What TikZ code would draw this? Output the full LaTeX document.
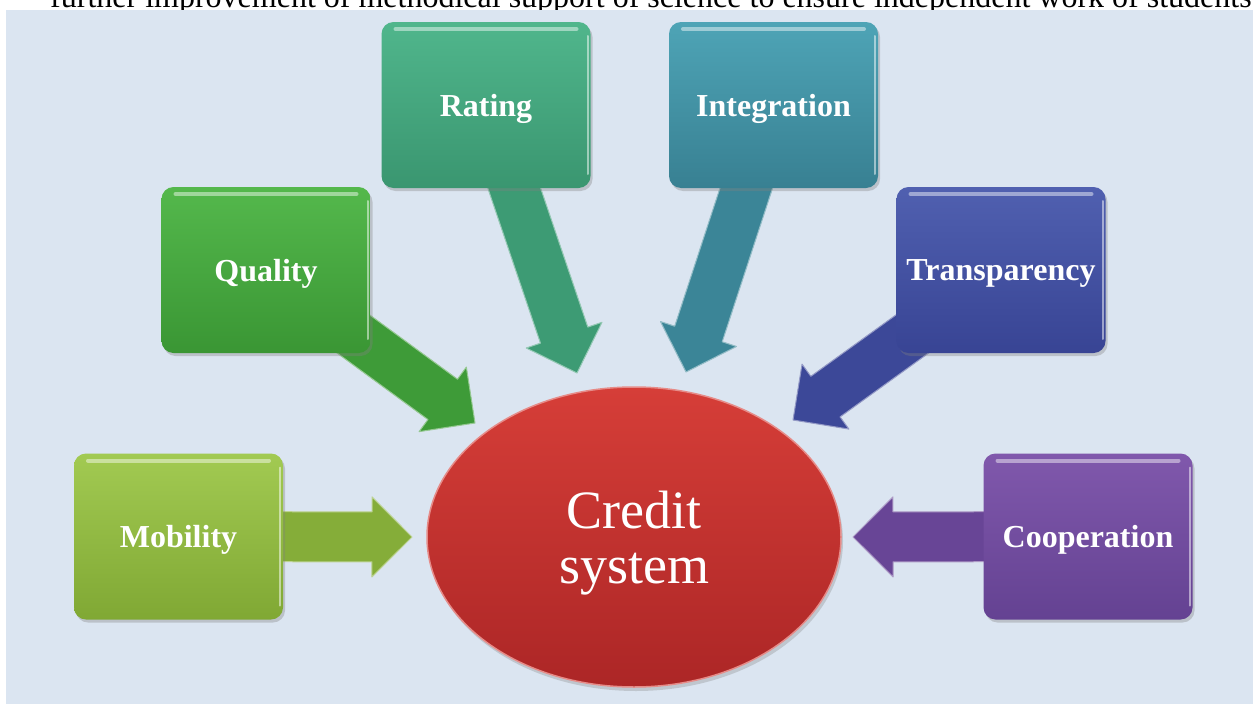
\documentclass[tikz,border=0pt]{standalone}
\usepackage{fontspec}
\setmainfont{Liberation Serif}
\usetikzlibrary{calc,shapes.geometric,shadows}
\pgfdeclarelayer{bg}
\pgfdeclarelayer{arrows}
\pgfsetlayers{bg,arrows,main}
\definecolor{bgblue}{HTML}{DBE5F1}
\definecolor{mobT}{RGB}{162,202,82}
\definecolor{mobB}{RGB}{128,168,52}
\definecolor{quaT}{RGB}{84,184,76}
\definecolor{quaB}{RGB}{58,150,52}
\definecolor{ratT}{RGB}{80,182,140}
\definecolor{ratB}{RGB}{58,150,112}
\definecolor{intT}{RGB}{78,164,182}
\definecolor{intB}{RGB}{56,128,146}
\definecolor{traT}{RGB}{80,96,176}
\definecolor{traB}{RGB}{56,68,148}
\definecolor{cooT}{RGB}{128,88,172}
\definecolor{cooB}{RGB}{100,66,146}
\definecolor{redT}{RGB}{214,62,56}
\definecolor{redB}{RGB}{172,38,38}
\tikzset{
  x=1pt, y=-1pt,
  box/.style={rectangle, rounded corners=12pt, minimum width=209pt,
    minimum height=166pt, inner sep=0pt, text=white, text depth=0pt,
    font=\fontsize{32}{36}\selectfont\bfseries,
    drop shadow={opacity=0.35, shadow xshift=2pt, shadow yshift=-3pt},
    path picture={
      \draw[white, opacity=0.45, line width=4pt, line cap=round]
        ([xshift=14pt,yshift=-7pt]path picture bounding box.north west) --
        ([xshift=-14pt,yshift=-7pt]path picture bounding box.north east);
      \draw[white, opacity=0.5, line width=2pt, line cap=round]
        ([xshift=-3pt,yshift=-14pt]path picture bounding box.north east) --
        ([xshift=-3pt,yshift=14pt]path picture bounding box.south east);
    }},
  hub/.style={ellipse, minimum width=414pt, minimum height=300pt, inner sep=0pt,
    top color=redT, bottom color=redB, draw=redT!60!white, line width=1.5pt,
    text=white, align=center, text depth=0pt, font=\fontsize{54}{55}\selectfont,
    drop shadow={opacity=0.3, shadow xshift=2pt, shadow yshift=-4pt}},
  hdr/.style={anchor=base west, inner sep=0pt, text=black,
    font=\fontsize{32}{36}\selectfont}
}
\newcommand\blockarrow[3]{%
  \begin{pgfonlayer}{arrows}
  \fill[#3, draw=#3!55!white, line width=1pt, line join=round]
    ($(#1.center)!25pt!90:(#2)$) --
    ($(#2)!40pt!(#1.center)!25pt!-90:(#1.center)$) --
    ($(#2)!40pt!(#1.center)!40pt!-90:(#1.center)$) --
    (#2) --
    ($(#2)!40pt!(#1.center)!40pt!90:(#1.center)$) --
    ($(#2)!40pt!(#1.center)!25pt!90:(#1.center)$) --
    ($(#1.center)!25pt!-90:(#2)$) -- cycle;
  \end{pgfonlayer}}
\begin{document}
\begin{tikzpicture}
\useasboundingbox (0,0) rectangle (1253,704);
\begin{pgfonlayer}{bg}
  \fill[white] (0,0) rectangle (1253,704);
  \fill[bgblue] (6,9.5) rectangle (1253,704);
  \begin{scope}
    \clip (0,0) rectangle (1253,9.5);
    \node[hdr] (head) at (50,7) {further improvement of methodical support of science to ensure independent work of students};
  \end{scope}
\end{pgfonlayer}

\node[hub] (cs) at (634,537) {Credit\\system};

\node[box, top color=mobT, bottom color=mobB] (mob) at (178.5,536.5) {Mobility};
\node[box, top color=quaT, bottom color=quaB] (qua) at (266,270) {Quality};
\node[box, top color=ratT, bottom color=ratB] (rat) at (486,105) {Rating};
\node[box, top color=intT, bottom color=intB] (int) at (773.5,105) {Integration};
\node[box, top color=traT, bottom color=traB] (tra) at (1001,270) {Transparency};
\node[box, top color=cooT, bottom color=cooB] (coo) at (1088,536.5) {Cooperation};

\coordinate (tM) at (412,537);
\coordinate (tQ) at (475,423);
\coordinate (tR) at (577,373);
\coordinate (tI) at (686,372);
\coordinate (tT) at (793,420);
\coordinate (tC) at (853,537);

\blockarrow{mob}{tM}{mobB!85!mobT}
\blockarrow{qua}{tQ}{quaB!85!quaT}
\blockarrow{rat}{tR}{ratB!85!ratT}
\blockarrow{int}{tI}{intB!85!intT}
\blockarrow{tra}{tT}{traB!85!traT}
\blockarrow{coo}{tC}{cooB!85!cooT}
\end{tikzpicture}
\end{document}
